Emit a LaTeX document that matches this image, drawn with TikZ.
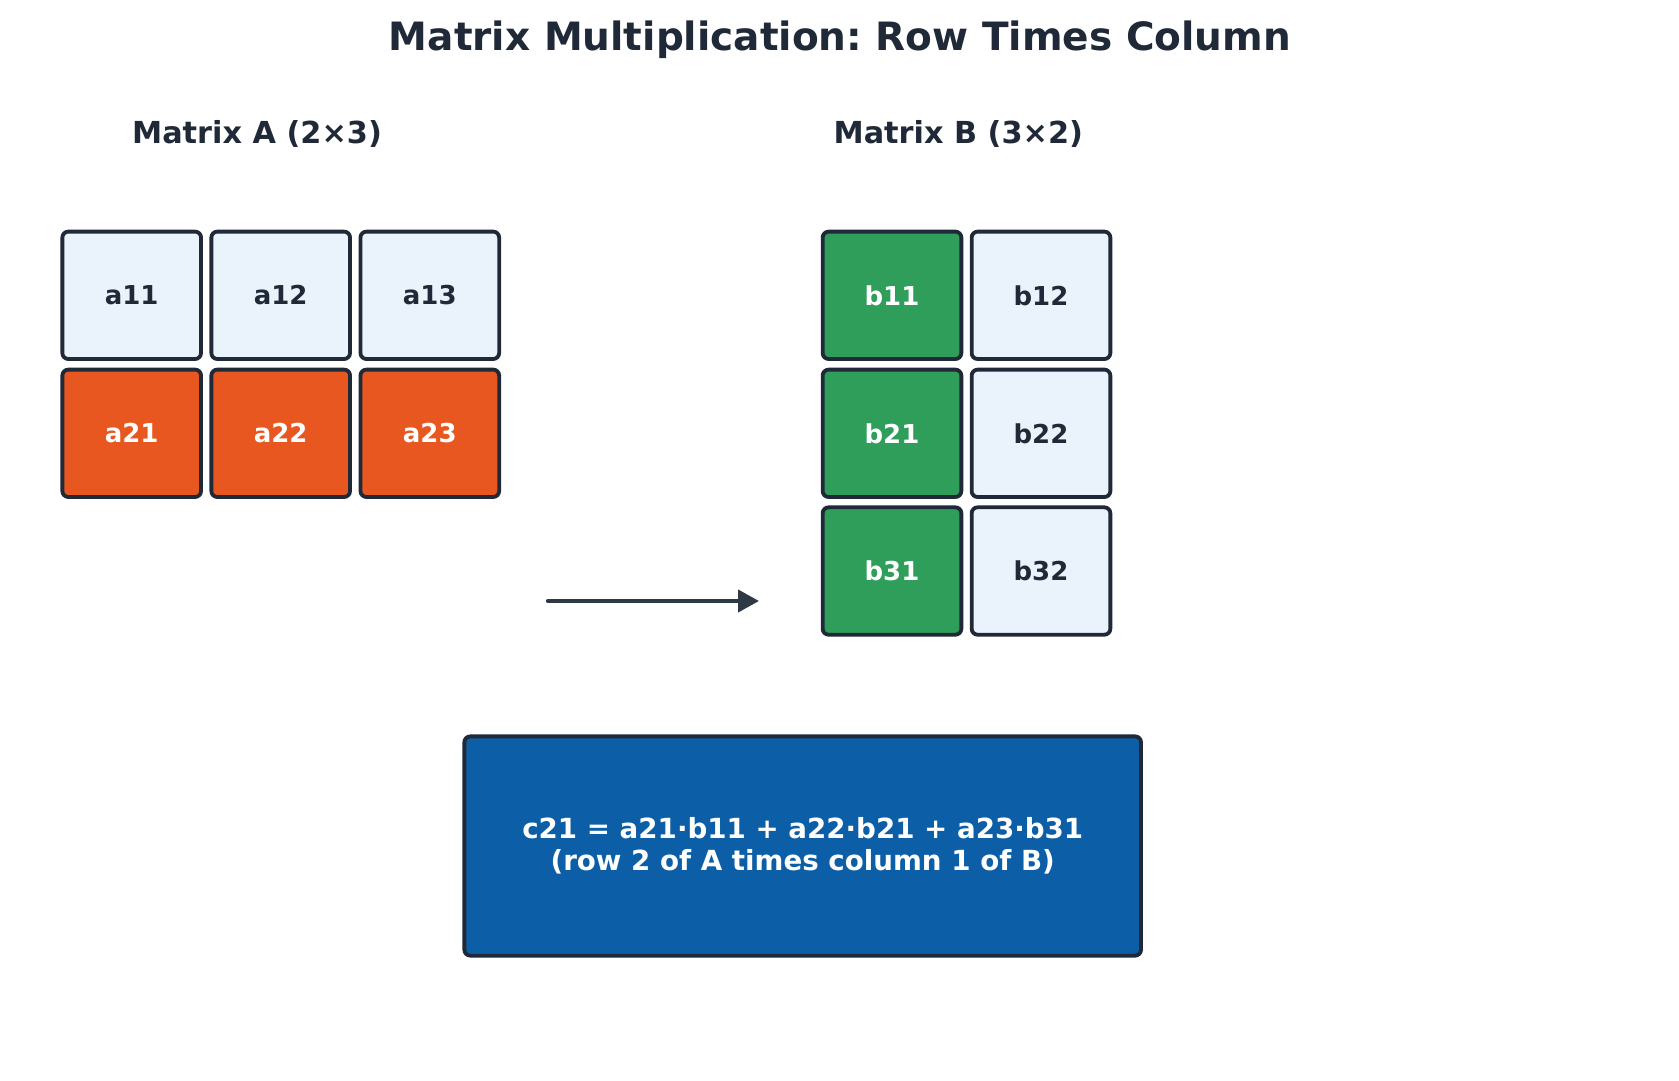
\documentclass[tikz,border=0pt]{standalone}
\usepackage{fontspec}
\setmainfont{DejaVu Sans}
\frenchspacing
\usetikzlibrary{arrows.meta}
\definecolor{ink}{HTML}{1F2937}
\definecolor{arrowink}{HTML}{2F3845}
\definecolor{lightcell}{HTML}{EAF2FB}
\definecolor{orangecell}{HTML}{E85720}
\definecolor{greencell}{HTML}{2E9E5A}
\definecolor{bluebox}{HTML}{0C5FA6}
\tikzset{
  cell/.style={draw=ink, line width=3.8pt, rounded corners=6pt, minimum width=138.7pt,
    minimum height=127.4pt, inner sep=0pt, font=\fontsize{26}{30}\selectfont\bfseries},
  plaincell/.style={cell, fill=lightcell, text=ink},
  rowcell/.style={cell, fill=orangecell, text=white},
  colcell/.style={cell, fill=greencell, text=white},
  heading/.style={anchor=base, text=ink, inner sep=0pt},
  resultbox/.style={draw=ink, line width=3.8pt, rounded corners=6pt, fill=bluebox, text=white,
    minimum width=676.7pt, minimum height=219.3pt, inner sep=0pt, align=center,
    font=\fontsize{27.7}{32.3}\selectfont\bfseries},
  flowarrow/.style={draw=arrowink, line width=4.2pt, line cap=round, -{Triangle[length=21pt,width=22pt]}}
}
\begin{document}
\begin{tikzpicture}[x=1pt,y=-1pt]
\useasboundingbox (0,0) rectangle (1679,1080);
\fill[white] (0,0) rectangle (1679,1080);
% title and headings
\node[heading, font=\fontsize{39}{44}\selectfont\bfseries] (title) at (840,50.7) {Matrix Multiplication: Row Times Column};
\node[heading, font=\fontsize{30.3}{34}\selectfont\bfseries] (labelA) at (257,143.3) {Matrix A (2×3)};
\node[heading, font=\fontsize{30.3}{34}\selectfont\bfseries] (labelB) at (958.3,143.3) {Matrix B (3×2)};
% matrix A
\node[plaincell] (a11) at (131.7,295.3) {a11};
\node[plaincell] (a12) at (280.7,295.3) {a12};
\node[plaincell] (a13) at (429.8,295.3) {a13};
\node[rowcell] (a21) at (131.7,433.3) {a21};
\node[rowcell] (a22) at (280.7,433.3) {a22};
\node[rowcell] (a23) at (429.8,433.3) {a23};
% matrix B
\node[colcell] (b11) at (892,295.3) {b11};
\node[plaincell] (b12) at (1041,295.3) {b12};
\node[colcell] (b21) at (892,433.3) {b21};
\node[plaincell] (b22) at (1041,433.3) {b22};
\node[colcell] (b31) at (892,571) {b31};
\node[plaincell] (b32) at (1041,571) {b32};
% arrow
\coordinate (arrowstart) at (548,601);
\coordinate (arrowend) at (759,601);
\draw[flowarrow] (arrowstart) -- (arrowend);
% result
\node[resultbox] (result) at (802.7,846) {c21 = a21·b11 + a22·b21 + a23·b31\\(row 2 of A times column 1 of B)};
\end{tikzpicture}
\end{document}
